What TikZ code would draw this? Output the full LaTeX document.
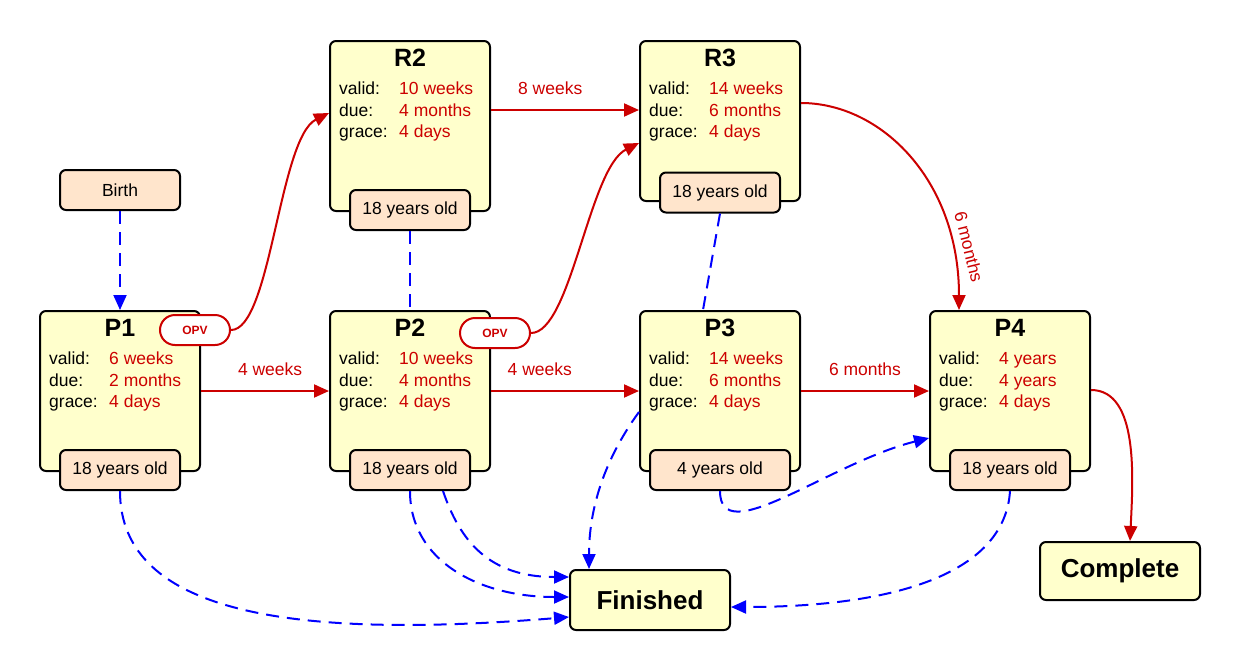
\documentclass[tikz,border=0pt]{standalone}
\usepackage{fontspec}
\setmainfont{Liberation Sans}
\usetikzlibrary{arrows.meta,calc}
\definecolor{boxfill}{HTML}{FFFFCC}
\definecolor{tagfill}{HTML}{FFE5CC}
\definecolor{vred}{HTML}{CC0000}
\definecolor{vblue}{HTML}{0000FF}
\newcommand\vacbox[8]{%
  \node[box, minimum height=#4pt, anchor=north] (#1) at (#2,#3) {};
  \node[ttl] (#1t) at ($(#1.north)+(0,26)$) {#5};
  \node[lab] (#1a) at ($(#1.north west)+(10,54)$) {valid:};
  \node[lab] (#1b) at ($(#1.north west)+(10,76)$) {due:};
  \node[lab] (#1c) at ($(#1.north west)+(10,97)$) {grace:};
  \node[val] (#1x) at ($(#1.north west)+(70,54)$) {#6};
  \node[val] (#1y) at ($(#1.north west)+(70,76)$) {#7};
  \node[val] (#1z) at ($(#1.north west)+(70,97)$) {#8};
}
\begin{document}
\begin{tikzpicture}[x=1pt,y=-1pt,
  box/.style={draw=black, line width=2pt, fill=boxfill, rounded corners=6pt, minimum width=160pt, inner sep=0pt},
  tag/.style={draw=black, line width=2pt, fill=tagfill, rounded corners=6pt, minimum width=120pt, minimum height=40pt, inner sep=0pt, font=\fontsize{17.5}{20}\selectfont},
  ttl/.style={anchor=base, inner sep=0pt, font=\bfseries\fontsize{25}{28}\selectfont},
  lab/.style={anchor=base west, inner sep=0pt, font=\fontsize{17.5}{20}\selectfont},
  val/.style={lab, text=vred},
  opv/.style={draw=vred, line width=2pt, fill=white, rounded corners=15pt, minimum width=70pt, minimum height=30pt, inner sep=0pt, text=vred, font=\bfseries\fontsize{12}{14}\selectfont},
  endbox/.style={box, minimum height=60pt, font=\bfseries\fontsize{26}{30}\selectfont},
  redarrow/.style={draw=vred, line width=2pt, -{Triangle[length=15pt,width=13pt]}},
  bluearrow/.style={draw=vblue, line width=2pt, dash pattern=on 13pt off 8pt, -{Triangle[length=15pt,width=13pt]}},
  blueline/.style={draw=vblue, line width=2pt, dash pattern=on 13pt off 8pt},
  elab/.style={text=vred, font=\fontsize{17.5}{20}\selectfont, inner sep=0pt}
]
\useasboundingbox[fill=white] (0,0) rectangle (1240,670);

\vacbox{R2}{410}{40}{170}{R2}{10 weeks}{4 months}{4 days}
\vacbox{R3}{720}{40}{160}{R3}{14 weeks}{6 months}{4 days}
\vacbox{P1}{120}{310}{160}{P1}{6 weeks}{2 months}{4 days}
\vacbox{P2}{410}{310}{160}{P2}{10 weeks}{4 months}{4 days}
\vacbox{P3}{720}{310}{160}{P3}{14 weeks}{6 months}{4 days}
\vacbox{P4}{1010}{310}{160}{P4}{4 years}{4 years}{4 days}

\node[tag] (birth) at (120,190) {Birth};
\node[tag] (R2g) at (410,210) {18 years old};
\node[tag] (R3g) at (720,192.5) {18 years old};
\node[tag] (P1g) at (120,470) {18 years old};
\node[tag] (P2g) at (410,470) {18 years old};
\node[tag, minimum width=140pt] (P3g) at (720,470) {4 years old};
\node[tag] (P4g) at (1010,470) {18 years old};

\node[opv] (O1) at (195,330) {OPV};
\node[opv] (O2) at (495,333) {OPV};

\node[endbox] (Fin) at (650,600) {Finished};
\node[endbox, minimum height=58pt] (Comp) at (1120,571) {Complete};

% red connectors
\draw[redarrow] (P1) -- node[elab, pos=0.54, yshift=22pt] (l1) {4 weeks} (P2);
\draw[redarrow] (P2) -- node[elab, pos=0.33, yshift=22pt] (l2) {4 weeks} (P3);
\draw[redarrow] (P3) -- node[elab, pos=0.5, yshift=22pt] (l3) {6 months} (P4);
\draw[redarrow] ($(R2.north east)+(0,70)$) -- node[elab, pos=0.4, yshift=22pt] (l4) {8 weeks} ($(R3.north west)+(0,70)$);
\draw[redarrow] (O1.east) .. controls +(40,0) and +(-50,25) .. ($(R2.north west)+(0,73)$);
\draw[redarrow] (O2.east) .. controls +(40,0) and +(-50,25) .. ($(R3.north west)+(0,103)$);
\draw[redarrow] ($(R3.north east)+(0,63)$) .. controls +(80,0) and +(0,-130) .. ($(P4.north west)+(30,0)$);
\node[elab, rotate=-76] (l5) at (969,247) {6 months};
\draw[redarrow] ($(P4.north east)+(0,80)$) .. controls +(48,0) and +(3,-62) .. ($(Comp.north)+(10,0)$);

% blue connectors
\draw[bluearrow] (birth) -- (P1);
\draw[blueline] (R2g) -- (P2);
\draw[blueline] (R3g.south) -- ($(P3.north)+(-17,0)$);
\draw[bluearrow] (P1g.south) .. controls +(0,125) and +(-270,22) .. ($(Fin.north west)+(0,48)$);
\draw[bluearrow] (P2g.south) .. controls +(0,70) and +(-90,0) .. ($(Fin.north west)+(0,28)$);
\draw[bluearrow] ($(P2g.south)+(33,0)$) .. controls +(17,50) and +(-80,0) .. ($(Fin.north west)+(0,8)$);
\draw[bluearrow] ($(P3.north west)+(0,102)$) .. controls +(-35,48) and +(0,-60) .. ($(Fin.north west)+(20,0)$);
\draw[bluearrow] (P3g.south) .. controls +(0,60) and +(-100,25) .. ($(P4.north west)+(0,128)$);
\draw[bluearrow] (P4g.south) .. controls +(-5,80) and +(170,0) .. ($(Fin.north east)+(0,38)$);
\end{tikzpicture}
\end{document}
